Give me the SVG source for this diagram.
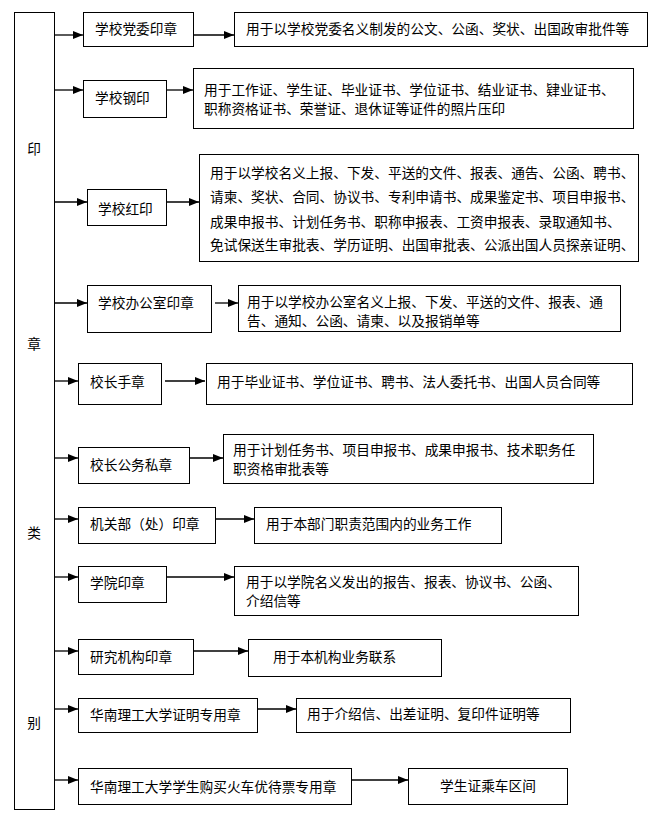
<svg xmlns="http://www.w3.org/2000/svg" width="663" height="818" viewBox="0 0 663 818">
<defs>
<marker id="ah" markerUnits="userSpaceOnUse" markerWidth="11" markerHeight="9" refX="10" refY="4.5" orient="auto">
<path d="M0,0.5 L10,4.5 L0,8.5 z" fill="#000"/>
</marker>
<style>
rect{fill:#fff;stroke:#000;stroke-width:1}
text{font-family:"Noto Sans CJK SC","Noto Sans CJK JP",sans-serif;font-size:13.7px;fill:#000}
.c line{stroke:#000;stroke-width:1.3;marker-end:url(#ah)}
.m{text-anchor:middle}
</style>
</defs>
<rect x="0" y="0" width="663" height="818" style="stroke:none"/>
<g id="category">
<rect x="14.5" y="12.5" width="40" height="797"/>
<text class="m" x="34" y="154">印</text>
<text class="m" x="34" y="349">章</text>
<text class="m" x="34" y="538">类</text>
<text class="m" x="34" y="728">别</text>
</g>
<g class="c" id="connectors">
<line x1="54.5" y1="35" x2="83" y2="35"/><line x1="193" y1="35" x2="234" y2="35"/>
<line x1="54.5" y1="90" x2="83" y2="90"/><line x1="166" y1="90" x2="193" y2="90"/>
<line x1="54.5" y1="202" x2="87" y2="202"/><line x1="166" y1="202" x2="199" y2="202"/>
<line x1="54.5" y1="303" x2="87" y2="303"/><line x1="215" y1="303" x2="238" y2="303"/>
<line x1="54.5" y1="381" x2="78" y2="381"/><line x1="165" y1="381" x2="205" y2="381"/>
<line x1="54.5" y1="458" x2="78" y2="458"/><line x1="189" y1="458" x2="223" y2="458"/>
<line x1="54.5" y1="519" x2="78" y2="519"/><line x1="215" y1="519" x2="254" y2="519"/>
<line x1="54.5" y1="577" x2="78" y2="577"/><line x1="166" y1="577" x2="234" y2="577"/>
<line x1="54.5" y1="651" x2="78" y2="651"/><line x1="193" y1="651" x2="248" y2="651"/>
<line x1="54.5" y1="709" x2="78" y2="709"/><line x1="257" y1="709" x2="296" y2="709"/>
<line x1="54.5" y1="780" x2="78" y2="780"/><line x1="351" y1="780" x2="408" y2="780"/>
</g>
<g id="n1"><rect x="83.5" y="12.5" width="110" height="34"/><text x="95" y="34">学校党委印章</text></g>
<g id="d1"><rect x="234.5" y="12.5" width="413" height="34"/><text x="246" y="34">用于以学校党委名义制发的公文、公函、奖状、出国政审批件等</text></g>
<g id="n2"><rect x="83.5" y="80.5" width="83" height="37"/><text x="95" y="103">学校钢印</text></g>
<g id="d2"><rect x="193.5" y="68.5" width="440" height="60"/><text x="204" y="95">用于工作证、学生证、毕业证书、学位证书、结业证书、肄业证书、</text><text x="204" y="114">职称资格证书、荣誉证、退休证等证件的照片压印</text></g>
<g id="n3"><rect x="87.5" y="189.5" width="79" height="36"/><text x="98" y="214">学校红印</text></g>
<g id="d3"><rect x="199.5" y="154.5" width="439" height="107"/><text x="210" y="178">用于以学校名义上报、下发、平送的文件、报表、通告、公函、聘书、</text><text x="210" y="202">请柬、奖状、合同、协议书、专利申请书、成果鉴定书、项目申报书、</text><text x="210" y="227">成果申报书、计划任务书、职称申报表、工资申报表、录取通知书、</text><text x="210" y="250">免试保送生审批表、学历证明、出国审批表、公派出国人员探亲证明、</text></g>
<g id="n4"><rect x="87.5" y="285.5" width="124" height="47"/><text x="98" y="308">学校办公室印章</text></g>
<g id="d4"><rect x="238.5" y="285.5" width="382" height="46"/><text x="247" y="307">用于以学校办公室名义上报、下发、平送的文件、报表、通</text><text x="247" y="326">告、通知、公函、请柬、以及报销单等</text></g>
<g id="n5"><rect x="78.5" y="363.5" width="83" height="41"/><text x="90" y="387">校长手章</text></g>
<g id="d5"><rect x="206.5" y="363.5" width="426" height="41"/><text x="217" y="387">用于毕业证书、学位证书、聘书、法人委托书、出国人员合同等</text></g>
<g id="n6"><rect x="78.5" y="447.5" width="111" height="36"/><text x="90" y="470">校长公务私章</text></g>
<g id="d6"><rect x="223.5" y="434.5" width="370" height="49"/><text x="233" y="455">用于计划任务书、项目申报书、成果申报书、技术职务任</text><text x="233" y="474">职资格审批表等</text></g>
<g id="n7"><rect x="78.5" y="507.5" width="137" height="36"/><text x="90" y="529">机关部（处）印章</text></g>
<g id="d7"><rect x="254.5" y="507.5" width="247" height="36"/><text x="266" y="529">用于本部门职责范围内的业务工作</text></g>
<g id="n8"><rect x="78.5" y="566.5" width="88" height="36"/><text x="90" y="588">学院印章</text></g>
<g id="d8"><rect x="234.5" y="566.5" width="344" height="49"/><text x="246" y="587">用于以学院名义发出的报告、报表、协议书、公函、</text><text x="246" y="606">介绍信等</text></g>
<g id="n9"><rect x="78.5" y="639.5" width="115" height="35"/><text x="90" y="662">研究机构印章</text></g>
<g id="d9"><rect x="248.5" y="639.5" width="193" height="37"/><text x="273" y="662">用于本机构业务联系</text></g>
<g id="n10"><rect x="78.5" y="698.5" width="179" height="34"/><text x="90" y="720">华南理工大学证明专用章</text></g>
<g id="d10"><rect x="296.5" y="698.5" width="274" height="34"/><text x="307" y="719">用于介绍信、出差证明、复印件证明等</text></g>
<g id="n11"><rect x="78.5" y="768.5" width="273" height="36"/><text x="90" y="792">华南理工大学学生购买火车优待票专用章</text></g>
<g id="d11"><rect x="408.5" y="768.5" width="159" height="36"/><text class="m" x="488" y="791">学生证乘车区间</text></g>
</svg>
